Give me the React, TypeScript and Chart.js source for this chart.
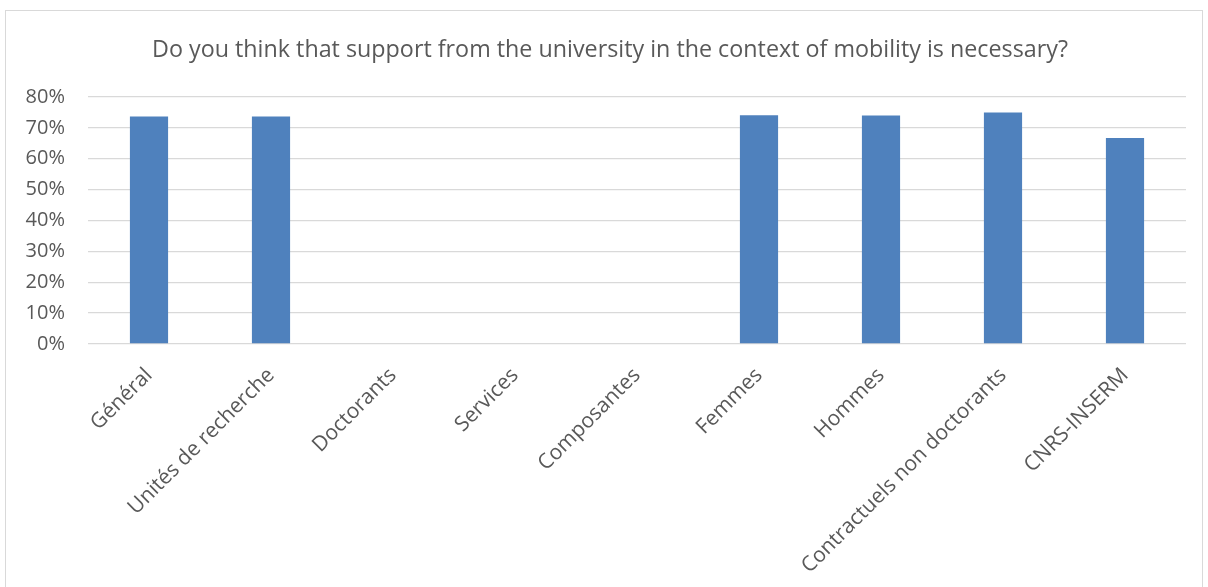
import React, { useEffect, useRef } from "react";
import { Chart, registerables } from "chart.js";

Chart.register(...registerables);

const categories = [
  "Général",
  "Unités de recherche",
  "Doctorants",
  "Services",
  "Composantes",
  "Femmes",
  "Hommes",
  "Contractuels non doctorants",
  "CNRS-INSERM",
];
const values = [73.7, 73.7, 0, 0, 0, 74.1, 74.0, 75.0, 66.7];
const titleText =
  "Do you think that support from the university in the context of mobility is necessary?";
const yMax = 80;
const yStep = 10;

const FONT = "'Open Sans', 'DejaVu Sans', sans-serif";

const titlePlugin = {
  id: "centeredTitle",
  afterDraw(chart: any) {
    const ctx = chart.ctx;
    ctx.save();
    ctx.font = `normal 23.3px ${FONT}`;
    ctx.fillStyle = "#595959";
    ctx.textAlign = "center";
    ctx.textBaseline = "middle";
    ctx.fillText(titleText, 604, 39);
    ctx.restore();
  },
};

export default function App() {
  const ref = useRef<HTMLCanvasElement | null>(null);
  useEffect(() => {
    if (!ref.current) return;
    const chart = new Chart(ref.current, {
      type: "bar",
      data: {
        labels: categories,
        datasets: [
          {
            data: values,
            backgroundColor: "#4F81BD",
            borderWidth: 0,
            barPercentage: 0.313,
            categoryPercentage: 1,
          },
        ],
      },
      plugins: [titlePlugin],
      options: {
        responsive: false,
        animation: false,
        layout: { padding: { left: 0, right: 16, top: 86, bottom: 0 } },
        plugins: {
          legend: { display: false },
          tooltip: { enabled: false },
          title: { display: false },
        },
        scales: {
          x: {
            grid: { display: false },
            border: { display: false },
            ticks: {
              color: "#595959",
              font: { family: FONT, size: 21 },
              minRotation: 45,
              maxRotation: 45,
              padding: 11,
            },
            afterFit: (s: any) => {
              s.height = 265;
            },
          },
          y: {
            min: 0,
            max: yMax,
            grid: { color: "#d9d9d9", lineWidth: 1.3, drawTicks: false },
            border: { display: false },
            ticks: {
              stepSize: yStep,
              color: "#595959",
              font: { family: FONT, size: 20 },
              padding: 23,
              callback: (v: any) => v + "%",
            },
            afterFit: (s: any) => {
              s.width = 82;
            },
          },
        },
      },
    });
    return () => chart.destroy();
  }, []);
  return (
    <div
      style={{
        position: "absolute",
        left: 5,
        top: 10,
        width: 1196,
        height: 598,
        border: "1px solid #d9d9d9",
        background: "#fff",
      }}
    >
      <canvas ref={ref} width={1196} height={598} style={{ display: "block" }} />
    </div>
  );
}
